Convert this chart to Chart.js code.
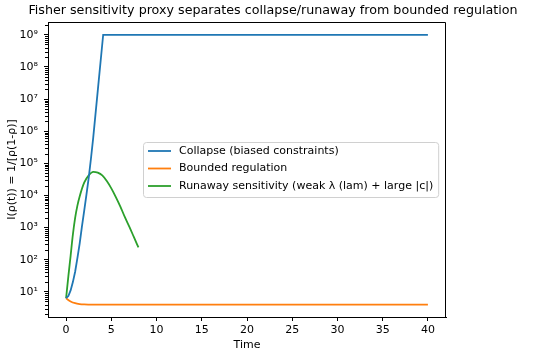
<!DOCTYPE html>
<html>
<head>
<meta charset="utf-8">
<script src="https://cdn.jsdelivr.net/npm/chart.js@4/dist/chart.umd.min.js"></script>
<style>
  body { margin: 0; background: white; }
  canvas { display: block; }
</style>
</head>
<body>
<canvas id="fisherChart" width="550" height="354"></canvas>
<script>
// values (time, I = 1/[rho(1-rho)])
var collapseT = [0, 0.25, 0.5, 0.75, 1, 1.25, 1.5, 1.75, 2, 2.25, 2.5, 2.75, 3, 3.5, 4.1, 40];
var collapseI = [6.3, 7.4, 11, 20, 42, 112, 316, 1070, 3300, 10500, 35000, 141000, 630000, 1.8e7, 1e9, 1e9];

var boundedT = [0, 0.5, 1, 1.5, 2, 3, 40];
var boundedI = [6.25, 5.0, 4.4, 4.15, 4.05, 4.0, 4.0];

var runawayT = [0, 0.25, 0.5, 0.75, 1, 1.25, 1.5, 2, 2.5, 3, 3.5, 4, 4.5, 5, 5.5, 6, 6.5, 7, 7.5, 8];
var runawayI = [6.3, 30, 132, 600, 2000, 4800, 9300, 25000, 42000, 54000, 51000, 42000, 28000, 16600, 8900, 4500, 2100, 1050, 500, 240];

var xTicks = [0, 5, 10, 15, 20, 25, 30, 35, 40];
var yTicks = [1e1, 1e2, 1e3, 1e4, 1e5, 1e6, 1e7, 1e8, 1e9];
var supers = ['⁰', '¹', '²', '³', '⁴', '⁵', '⁶', '⁷', '⁸', '⁹'];

var chartTitle = 'Fisher sensitivity proxy separates collapse/runaway from bounded regulation';

function toPoints(ts, vs) {
    return ts.map(function (t, i) { return { x: t, y: vs[i] }; });
}

// title, minor log ticks, box on top/right, and the legend inside the plot
var extras = {
    id: 'extras',
    afterDraw: function (chart) {
        var ctx = chart.ctx;
        var a = chart.chartArea;
        var y = chart.scales.y;
        ctx.save();

        ctx.fillStyle = '#000';
        ctx.font = '12.7px "DejaVu Sans"';
        ctx.textAlign = 'center';
        ctx.textBaseline = 'middle';
        ctx.fillText(chartTitle, 273, 11);
        ctx.textAlign = 'left';

        ctx.strokeStyle = '#000';
        ctx.lineWidth = 1;
        for (var e = 0; e <= 9; e++) {
            for (var m = 2; m <= 9; m++) {
                var v = m * Math.pow(10, e);
                if (v < y.min || v > y.max) continue;
                var py = Math.round(y.getPixelForValue(v)) + 0.5;
                ctx.beginPath();
                ctx.moveTo(a.left - 3, py);
                ctx.lineTo(a.left, py);
                ctx.stroke();
            }
        }
        ctx.beginPath();
        ctx.moveTo(a.left, a.top + 0.5);
        ctx.lineTo(a.right - 0.5, a.top + 0.5);
        ctx.lineTo(a.right - 0.5, a.bottom);
        ctx.stroke();

        // legend
        ctx.font = '11px "DejaVu Sans"';
        var widest = 0;
        chart.data.datasets.forEach(function (ds) {
            widest = Math.max(widest, ctx.measureText(ds.label).width);
        });
        var lx = 143, ly = 142, lw = 36 + widest + 5, lh = 55;
        ctx.fillStyle = 'rgba(255,255,255,0.8)';
        ctx.strokeStyle = '#d0d0d0';
        ctx.beginPath();
        ctx.roundRect(lx + 0.5, ly + 0.5, lw, lh, 3);
        ctx.fill();
        ctx.stroke();
        ctx.textBaseline = 'middle';
        chart.data.datasets.forEach(function (ds, i) {
            var cy = ly + 9 + i * 17.5;
            ctx.strokeStyle = ds.borderColor;
            ctx.lineWidth = 1.8;
            ctx.beginPath();
            ctx.moveTo(lx + 5, cy);
            ctx.lineTo(lx + 28, cy);
            ctx.stroke();
            ctx.fillStyle = '#000';
            ctx.fillText(ds.label, lx + 36, cy);
        });
        ctx.restore();
    }
};

document.addEventListener('DOMContentLoaded', function () {
    var ctx = document.getElementById('fisherChart').getContext('2d');
    var tickFont = { family: 'DejaVu Sans', size: 11 };

    var myChart = new Chart(ctx, {
        type: 'line',
        data: {
            datasets: [{
                label: 'Collapse (biased constraints)',
                data: toPoints(collapseT, collapseI),
                borderColor: '#1f77b4',
                tension: 0
            }, {
                label: 'Bounded regulation',
                data: toPoints(boundedT, boundedI),
                borderColor: '#ff7f0e',
                cubicInterpolationMode: 'monotone'
            }, {
                label: 'Runaway sensitivity (weak λ (lam) + large |c|)',
                data: toPoints(runawayT, runawayI),
                borderColor: '#2ca02c',
                cubicInterpolationMode: 'monotone'
            }]
        },
        options: {
            responsive: false,
            animation: false,
            layout: { padding: { left: 0, right: 104, top: 22, bottom: 0 } },
            elements: {
                point: { radius: 0 },
                line: { borderWidth: 1.8 }
            },
            plugins: {
                legend: { display: false },
                tooltip: { enabled: false },
                title: { display: false }
            },
            scales: {
                x: {
                    type: 'linear',
                    min: -2,
                    max: 42,
                    afterBuildTicks: function (s) {
                        s.ticks = xTicks.map(function (v) { return { value: v }; });
                    },
                    afterFit: function (s) { s.height = 37; },
                    grid: { drawOnChartArea: false, tickLength: 4, tickColor: '#000' },
                    border: { color: '#000' },
                    ticks: { color: '#000', padding: 3, maxRotation: 0, font: tickFont },
                    title: {
                        display: true, text: 'Time', color: '#000', font: tickFont,
                        padding: { top: 0, bottom: 2 }
                    }
                },
                y: {
                    type: 'logarithmic',
                    min: 1.64,
                    max: 2.5e9,
                    afterBuildTicks: function (s) {
                        s.ticks = yTicks.map(function (v) { return { value: v }; });
                    },
                    afterFit: function (s) { s.width = 48; },
                    grid: { drawOnChartArea: false, tickLength: 4, tickColor: '#000' },
                    border: { color: '#000' },
                    ticks: {
                        color: '#000', padding: 6, font: tickFont,
                        callback: function (v) {
                            return '10' + supers[Math.round(Math.log10(v))];
                        }
                    },
                    title: {
                        display: true, text: 'I(ρ(t)) = 1/[ρ(1-ρ)]', color: '#000', font: tickFont,
                        padding: { top: 6, bottom: 0 }
                    }
                }
            }
        },
        plugins: [extras]
    });
});
</script>
</body>
</html>
